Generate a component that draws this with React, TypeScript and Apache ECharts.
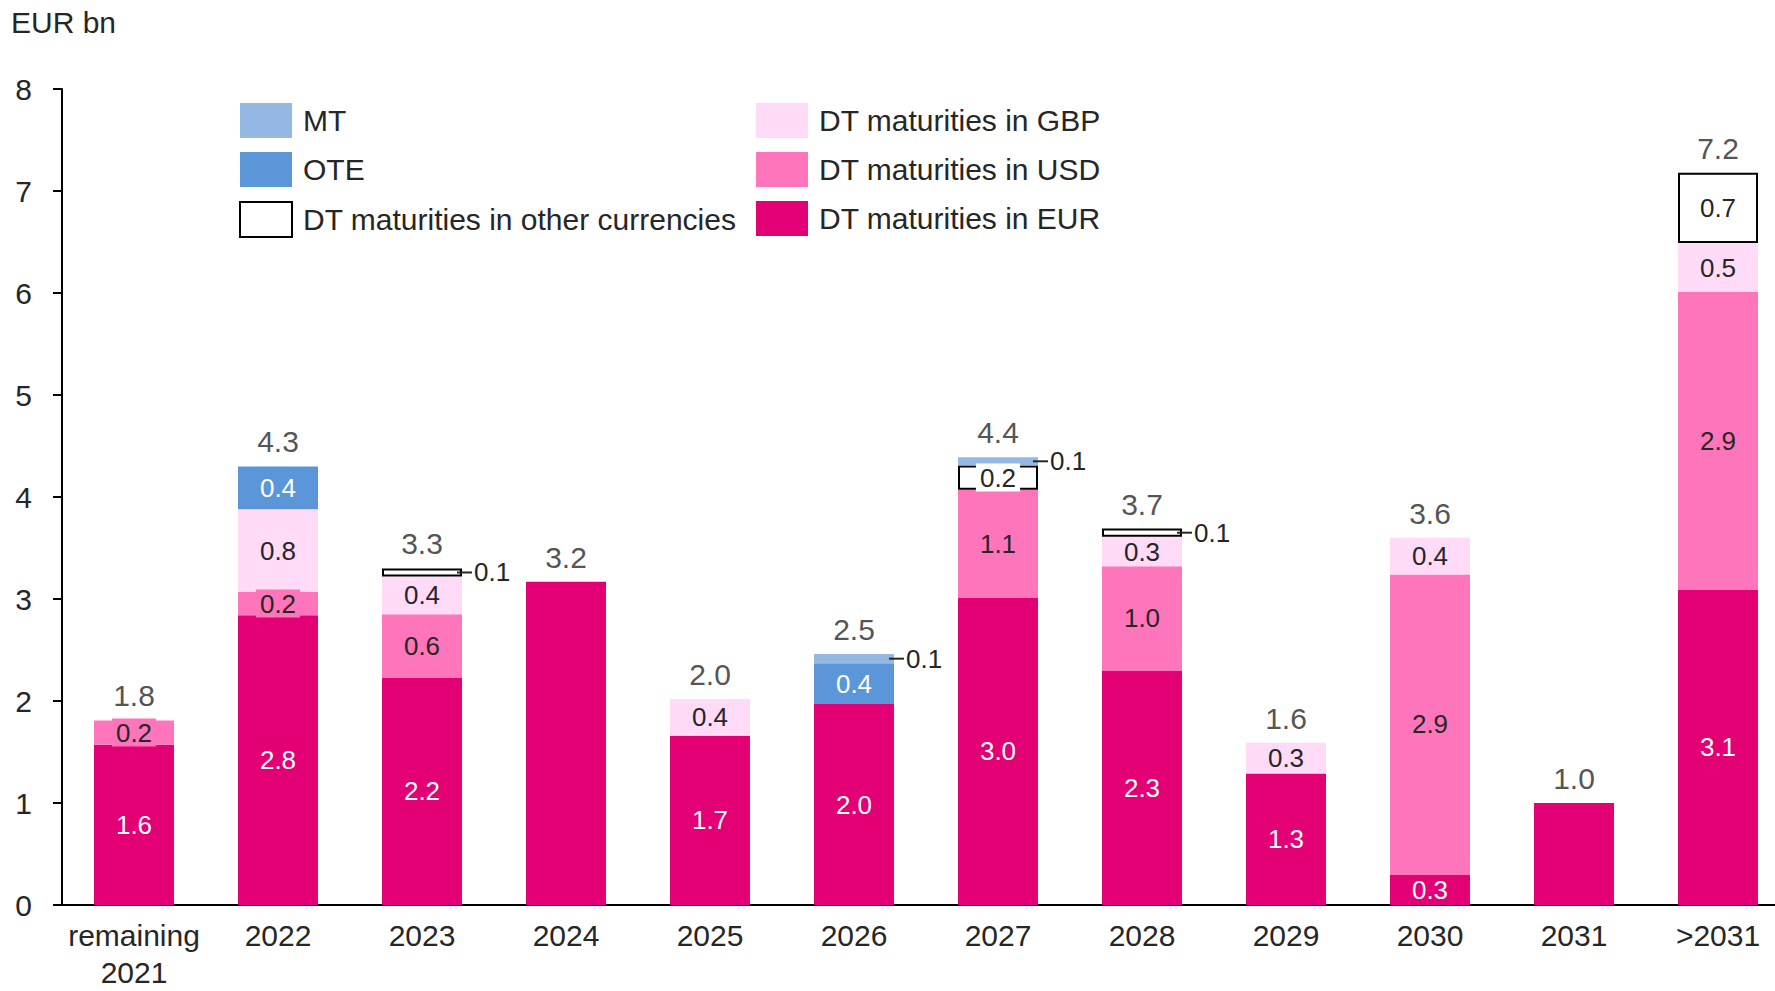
import React, { useEffect, useRef } from "react";
import * as echarts from "echarts";

const categories = ["remaining\n2021", "2022", "2023", "2024", "2025", "2026", "2027", "2028", "2029", "2030", "2031", ">2031"];
const eurValues = [1.57, 2.84, 2.23, 3.17, 1.66, 1.97, 3.01, 2.3, 1.29, 0.3, 1.0, 3.09];
const usdValues = [0.24, 0.23, 0.62, 0, 0, 0, 1.06, 1.02, 0, 2.94, 0, 2.92];
const gbpValues = [0, 0.81, 0.37, 0, 0.36, 0, 0, 0.29, 0.3, 0.36, 0, 0.48];
const otherValues = [0, 0, 0.08, 0, 0, 0, 0.24, 0.08, 0, 0, 0, 0.69];
const oteValues = [0, 0.42, 0, 0, 0, 0.4, 0, 0, 0, 0, 0, 0];
const mtValues = [0, 0, 0, 0, 0, 0.09, 0.08, 0, 0, 0, 0, 0];
const totalLabels = [1.8, 4.3, 3.3, 3.2, 2.0, 2.5, 4.4, 3.7, 1.6, 3.6, 1.0, 7.2];
const yTicks = [0, 1, 2, 3, 4, 5, 6, 7, 8];

const FONT = '"Liberation Sans", Arial, sans-serif';
const TXT = "#262626";
const BIG = 30;
const SMALL = 26;

const allSeries = [eurValues, usdValues, gbpValues, otherValues, oteValues, mtValues];
const segCount = categories.map((_, i) => allSeries.filter((s) => s[i] > 0).length);
const sums = categories.map((_, i) => allSeries.reduce((a, s) => a + s[i], 0));

function makeSeries(name: string, values: number[], color: string, textColor: string, bordered: boolean) {
  return {
    name,
    type: "bar",
    stack: "total",
    barWidth: 80,
    itemStyle: {
      color,
      borderColor: bordered ? "#000000" : color,
      borderWidth: bordered ? 2 : 0,
    },
    data: values.map((v, i) => {
      if (!v) return { value: null };
      if (segCount[i] < 2) return { value: v, label: { show: false } };
      if (v < 0.15) {
        return {
          value: v,
          label: {
            show: true,
            position: "right",
            distance: -5,
            formatter: "{d|}{t|" + v.toFixed(1) + "}",
            rich: {
              d: { width: 15, height: 2, backgroundColor: TXT },
              t: { fontSize: SMALL, color: TXT, fontFamily: FONT, padding: [0, 0, 0, 2] },
            },
          },
        };
      }
      return {
        value: v,
        label: {
          show: true,
          position: "inside",
          formatter: v.toFixed(1),
          fontSize: SMALL,
          fontFamily: FONT,
          color: textColor,
          backgroundColor: bordered ? "#ffffff" : color,
          padding: [1, 4],
        },
      };
    }),
  };
}

export default function App() {
  const ref = useRef<HTMLDivElement>(null);
  useEffect(() => {
    if (!ref.current) return;
    const chart = echarts.init(ref.current, null, { renderer: "svg" });
    const legendCommon = {
      orient: "vertical",
      top: 103,
      padding: 0,
      itemWidth: 52,
      itemHeight: 35,
      itemGap: 14,
      icon: "rect",
      textStyle: { fontSize: BIG, fontFamily: FONT, color: TXT, padding: [0, 0, 0, 6] },
    };
    chart.setOption({
      animation: false,
      textStyle: { fontFamily: FONT },
      graphic: [
        {
          type: "text",
          left: 11,
          top: 7,
          style: { text: "EUR bn", fontSize: BIG, fontFamily: FONT, fill: TXT },
        },
      ],
      legend: [
        { ...legendCommon, left: 239, data: ["MT", "OTE", "DT maturities in other currencies"] },
        { ...legendCommon, left: 756, data: ["DT maturities in GBP", "DT maturities in USD", "DT maturities in EUR"] },
      ],
      grid: { left: 62, top: 89, width: 1728, height: 816, containLabel: false },
      xAxis: {
        type: "category",
        data: categories,
        axisLine: { lineStyle: { color: "#000000", width: 2 } },
        axisTick: { show: false },
        axisLabel: { fontSize: BIG, lineHeight: 37, color: TXT, fontFamily: FONT, margin: 12, interval: 0 },
      },
      yAxis: {
        type: "value",
        min: yTicks[0],
        max: yTicks[yTicks.length - 1],
        interval: 1,
        splitLine: { show: false },
        axisLine: { show: true, lineStyle: { color: "#000000", width: 2 } },
        axisTick: { show: true, length: 9, lineStyle: { color: "#000000", width: 2 } },
        axisLabel: { fontSize: BIG, color: TXT, fontFamily: FONT, margin: 30 },
      },
      series: [
        makeSeries("DT maturities in EUR", eurValues, "#e20074", "#ffffff", false),
        makeSeries("DT maturities in USD", usdValues, "#ff75bb", TXT, false),
        makeSeries("DT maturities in GBP", gbpValues, "#ffdbf8", TXT, false),
        makeSeries("DT maturities in other currencies", otherValues, "#ffffff", TXT, true),
        makeSeries("OTE", oteValues, "#5b97d8", "#ffffff", false),
        makeSeries("MT", mtValues, "#94b8e3", TXT, false),
        {
          name: "total",
          type: "scatter",
          symbolSize: 1,
          itemStyle: { color: "rgba(0,0,0,0)" },
          data: sums,
          label: {
            show: true,
            position: "top",
            distance: 9,
            fontSize: BIG,
            fontFamily: FONT,
            color: TXT,
            formatter: (p: any) => totalLabels[p.dataIndex].toFixed(1),
          },
        },
      ],
    });
    return () => chart.dispose();
  }, []);
  return (
    <div style={{ position: "fixed", left: 0, top: 0, width: 1775, height: 991, overflow: "hidden", background: "#ffffff" }}>
      <div ref={ref} style={{ position: "absolute", left: 0, top: 0, width: 1810, height: 991 }} />
    </div>
  );
}
